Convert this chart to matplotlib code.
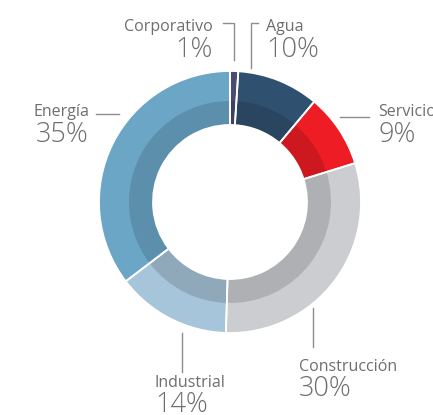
import numpy as np
import matplotlib
matplotlib.use("Agg")
from matplotlib import pyplot as plt
from matplotlib.colors import to_rgb

# Data
sectors = ["Corporativo", "Agua", "Servicios", "Construcción", "Industrial", "Energía"]
shares = [1, 10, 9, 30, 14, 35]
colors = ["#4b4a72", "#30506f", "#ee1c25", "#cbcdd0", "#a6c4da", "#6ba6c7"]

W, H = 433, 415
fig = plt.figure(figsize=(W / 100, H / 100), dpi=100)
ax = fig.add_axes([0, 0, 1, 1])

cx, cy = 230, H - 202
r_out, r_mid, r_in = 131, 101, 77

# outer ring, darker inner band, then white separators on top
ax.pie(shares, colors=colors, startangle=90, counterclock=False,
       center=(cx, cy), radius=r_out, frame=True,
       wedgeprops=dict(width=r_out - r_in, linewidth=0))
dark = [tuple(c * 0.86 for c in to_rgb(col)) for col in colors]
ax.pie(shares, colors=dark, startangle=90, counterclock=False,
       center=(cx, cy), radius=r_mid, frame=True,
       wedgeprops=dict(width=r_mid - r_in, linewidth=0))
ax.pie(shares, colors=["none"] * len(shares), startangle=90, counterclock=False,
       center=(cx, cy), radius=r_out, frame=True,
       wedgeprops=dict(width=r_out - r_in, edgecolor="white", linewidth=1.3))
ax.set_xlim(0, W)
ax.set_ylim(0, H)
ax.set_aspect("equal")
ax.axis("off")

grey = "#6d6e71"
line_c = "#8c8e90"
name_kw = dict(fontsize=11.5, color=grey, family="Open Sans")
pct_kw = dict(fontsize=19.5, color=grey, family="Open Sans", fontweight="light")

def y(p):
    return H - p

# labels: (x, align, name y, pct y)
labels = {
    "Corporativo": (213, "right", 27, 50),
    "Agua": (266, "left", 27, 50),
    "Servicios": (378, "left", 112, 135),
    "Construcción": (299, "left", 367, 389),
    "Industrial": (155, "left", 383, 405),
    "Energía": (89, "right", 112, 135),
}
for name, pct in zip(sectors, shares):
    x0, ha, yn, yp = labels[name]
    ax.text(x0, y(yn), name, ha=ha, va="center", **name_kw)
    ax.text(x0, y(yp), f"{pct}%", ha=ha, va="center", **pct_kw)

# leader lines
ax.plot([223, 234, 234], [y(23), y(23), y(60)], color=line_c, lw=1)
ax.plot([258, 251, 251], [y(23), y(23), y(68)], color=line_c, lw=1)
ax.plot([96, 119], [y(114), y(114)], color=line_c, lw=1)
ax.plot([340, 369], [y(117), y(117)], color=line_c, lw=1)
ax.plot([182, 182], [y(333), y(372)], color=line_c, lw=1)
ax.plot([313, 313], [y(308), y(347)], color=line_c, lw=1)

fig.savefig("out.png", dpi=100)
